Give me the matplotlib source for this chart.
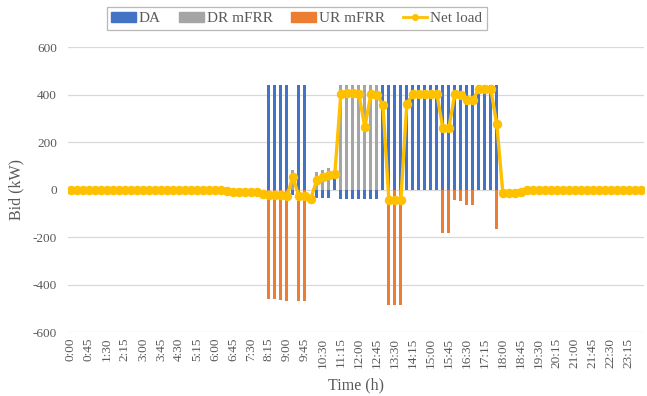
import numpy as np
import matplotlib
matplotlib.use("Agg")
import matplotlib.pyplot as plt
from matplotlib.patches import Patch
from matplotlib.lines import Line2D

plt.rcParams["font.family"] = ["Liberation Serif", "DejaVu Serif"]
plt.rcParams["axes.unicode_minus"] = False

# 15-minute slots over one day
times = [f"{(i * 15) // 60}:{(i * 15) % 60:02d}" for i in range(96)]

da_bid = [
    0, 0, 0, 0, 0, 0, 0, 0, 0, 0, 0, 0,
    0, 0, 0, 0, 0, 0, 0, 0, 0, 0, 0, 0,
    0, 0, 0, 0, 0, 0, 0, 0, 0, 440, 440, 440,
    440, -24, 440, 440, 0, -35, -35, -35, 70, -38, -38, -38,
    -38, -38, -38, -38, 440, 440, 440, 440, 440, 440, 440, 440,
    440, 440, 440, 440, 440, 440, 440, 440, 440, 440, 440, 440,
    0, 0, 0, 0, 0, 0, 0, 0, 0, 0, 0, 0,
    0, 0, 0, 0, 0, 0, 0, 0, 0, 0, 0, 0,
]

dr_mfrr = [
    0, 0, 0, 0, 0, 0, 0, 0, 0, 0, 0, 0,
    0, 0, 0, 0, 0, 0, 0, 0, 0, 0, 0, 0,
    0, 0, 0, 0, 0, 0, 0, 0, 0, 0, 0, 0,
    0, 81, 0, 0, 0, 74, 84, 92, 0, 440, 440, 440,
    440, 440, 440, 440, 0, 0, 0, 0, 0, 0, 0, 0,
    0, 0, 0, 0, 0, 0, 0, 0, 0, 0, 0, 0,
    0, 0, 0, 0, 0, 0, 0, 0, 0, 0, 0, 0,
    0, 0, 0, 0, 0, 0, 0, 0, 0, 0, 0, 0,
]

ur_mfrr = [
    0, 0, 0, 0, 0, 0, 0, 0, 0, 0, 0, 0,
    0, 0, 0, 0, 0, 0, 0, 0, 0, 0, 0, 0,
    0, 0, 0, 0, 0, 0, 0, 0, 0, -460, -462, -465,
    -470, 0, -468, -468, 0, 0, 0, 0, 0, 0, 0, 0,
    0, 0, 0, 0, 0, -487, -487, -487, 0, 0, 0, 0,
    0, 0, -185, -185, -42, -49, -64, -64, 0, 0, 0, -168,
    0, 0, 0, 0, 0, 0, 0, 0, 0, 0, 0, 0,
    0, 0, 0, 0, 0, 0, 0, 0, 0, 0, 0, 0,
]

net_load = [
    0, 0, 0, 0, 0, 0, 0, 0, 0, 0, 0, 0,
    0, 0, 0, 0, 0, 0, 0, 0, 0, 0, 0, 0,
    -2, -3, -5, -10, -10, -10, -10, -10, -20, -22, -21, -21,
    -28, 53, -28, -28, -38, 42, 53, 63, 67, 404, 406, 406,
    401, 264, 401, 400, 358, -42, -42, -42, 362, 401, 402, 402,
    404, 404, 259, 259, 402, 397, 379, 379, 422, 422, 422, 275,
    -13, -13, -13, -10, -4, -4, -4, -4, -3, -3, -2, -2,
    0, 0, 0, 0, 0, 0, 0, 0, 0, 0, 0, 0,
]

COLORS = {"DA": "#4472C4", "DR mFRR": "#A5A5A5", "UR mFRR": "#ED7D31", "Net load": "#FFC000"}
TEXT = "#595959"

fig = plt.figure(figsize=(6.47, 3.96), dpi=100)
ax = fig.add_axes([0.105, 0.1616, 0.89, 0.7195])

x = np.arange(len(times))
pos_base = np.zeros(len(x))
neg_base = np.zeros(len(x))
for name, vals in [("DA", da_bid), ("DR mFRR", dr_mfrr), ("UR mFRR", ur_mfrr)]:
    v = np.array(vals, dtype=float)
    bottom = np.where(v >= 0, pos_base, neg_base)
    ax.bar(x, v, width=0.48, bottom=bottom, color=COLORS[name], zorder=2)
    pos_base += np.clip(v, 0, None)
    neg_base += np.clip(v, None, 0)

ax.plot(x, net_load, color=COLORS["Net load"], lw=2.4, marker="o", ms=5.8,
        zorder=3)

ax.set_xlim(-0.5, len(x) - 0.5)
ax.set_ylim(-600, 600)
ax.set_yticks(np.arange(-600, 601, 200))
ax.set_xticks(x[::3])
ax.set_xticklabels(times[::3], rotation=90, fontsize=9.5, color=TEXT)
ax.tick_params(axis="y", labelsize=9.5, labelcolor=TEXT, length=0, pad=8)
ax.tick_params(axis="x", length=0, pad=4)
ax.grid(axis="y", color="#D9D9D9", lw=0.9, zorder=0)
for s in ax.spines.values():
    s.set_visible(False)

ax.set_ylabel("Bid (kW)", fontsize=11.5, color=TEXT, labelpad=6)
ax.set_xlabel("Time (h)", fontsize=11.5, color=TEXT, labelpad=7)

handles = [
    Patch(color=COLORS["DA"]),
    Patch(color=COLORS["DR mFRR"]),
    Patch(color=COLORS["UR mFRR"]),
    Line2D([], [], color=COLORS["Net load"], lw=2, marker="o", ms=4),
]
leg = fig.legend(handles, ["DA", "DR mFRR", "UR mFRR", "Net load"], ncol=4,
                 loc="center", bbox_to_anchor=(0.459, 0.953), fontsize=11,
                 frameon=True, fancybox=False, handlelength=1.6,
                 handletextpad=0.2, columnspacing=1.2, borderpad=0.3)
leg.get_frame().set_edgecolor("#A6A6A6")
leg.get_frame().set_linewidth(0.9)
for t in leg.get_texts():
    t.set_color(TEXT)

fig.savefig("out.png", dpi=100)
